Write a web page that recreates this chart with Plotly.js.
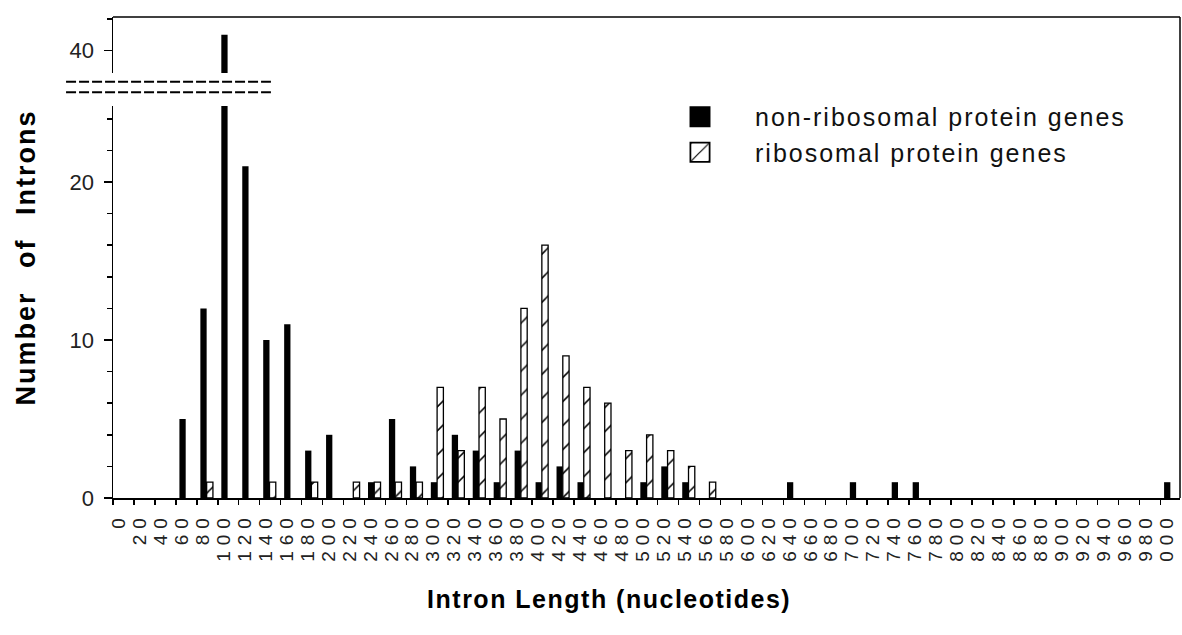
<!DOCTYPE html>
<html>
<head>
<meta charset="utf-8">
<script src="https://cdn.plot.ly/plotly-3.0.1.min.js"></script>
<style>
html, body { margin: 0; padding: 0; background: #fff; }
#chart { width: 1182px; height: 635px; }
.xtick text { letter-spacing: 6px; }
.x2title { letter-spacing: 1.5px; }
.y3title { letter-spacing: 2px; word-spacing: 14px; }
.legendtext { letter-spacing: 2px; }
.legend .legendpoints path {
  transform: translate(55px, 0px) scale(1.6);
  stroke: #000 !important; stroke-width: 1.1px !important; stroke-opacity: 1 !important;
}
</style>
</head>
<body>
<div id="chart"></div>
<script>
// Bin start (nucleotides)
const bins = [0, 20, 40, 60, 80, 100, 120, 140, 160, 180, 200, 220, 240, 260, 280, 300, 320, 340, 360, 380,
  400, 420, 440, 460, 480, 500, 520, 540, 560, 580, 600, 620, 640, 660, 680, 700, 720, 740, 760, 780,
  800, 820, 840, 860, 880, 900, 920, 940, 960, 980, 1000];
const tickLabels = ["0", "20", "40", "60", "80", "100", "120", "140", "160", "180", "200", "220", "240", "260", "280", "300", "320", "340", "360", "380",
  "400", "420", "440", "460", "480", "500", "520", "540", "560", "580", "600", "620", "640", "660", "680", "700", "720", "740", "760", "780",
  "800", "820", "840", "860", "880", "900", "920", "940", "960", "980", "000"];
const nonRibosomal = [0, 0, 0, 5, 12, 41, 21, 10, 11, 3, 4, 0, 1, 5, 2, 1, 4, 3, 1, 3,
  1, 2, 1, 0, 0, 1, 2, 1, 0, 0, 0, 0, 1, 0, 0, 1, 0, 1, 1, 0,
  0, 0, 0, 0, 0, 0, 0, 0, 0, 0, 1];
const ribosomal = [0, 0, 0, 0, 1, 0, 0, 1, 0, 1, 0, 1, 1, 1, 1, 7, 3, 7, 5, 12,
  16, 9, 7, 6, 3, 4, 3, 2, 1, 0, 0, 0, 0, 0, 0, 0, 0, 0, 0, 0,
  0, 0, 0, 0, 0, 0, 0, 0, 0, 0, 0];
const seriesNames = ["non-ribosomal protein genes", "ribosomal protein genes"];
const xTitle = "Intron Length (nucleotides)";
const yTitle = "Number of Introns";

const FONT = '"Liberation Sans", Arial, Helvetica, sans-serif';

// outline only on bars that exist (no stubs on empty bins)
const riboOutline = ribosomal.map(v => (v > 0 ? 1.3 : 0));

const blackMarker = { color: '#000', line: { width: 0 } };
const traces = [
  {
    type: 'bar', x: bins, y: nonRibosomal, name: seriesNames[0],
    xaxis: 'x', yaxis: 'y', offset: 3.4, width: 6.0,
    marker: blackMarker, hoverinfo: 'skip'
  },
  {
    type: 'bar', x: bins, y: ribosomal, name: seriesNames[1],
    xaxis: 'x', yaxis: 'y', offset: 9.4, width: 6.0,
    marker: {
      color: '#fff',
      line: { color: '#000', width: riboOutline },
      pattern: { shape: '/', fgcolor: '#000', bgcolor: '#fff', size: 17, solidity: 0.09 }
    },
    hoverinfo: 'skip'
  },
  {
    type: 'bar', x: bins, y: nonRibosomal, name: seriesNames[0], showlegend: false,
    xaxis: 'x', yaxis: 'y2', offset: 3.4, width: 6.0,
    marker: blackMarker, hoverinfo: 'skip'
  },
  { type: 'scatter', x: [], y: [], xaxis: 'x2', yaxis: 'y', showlegend: false, hoverinfo: 'skip' },
  { type: 'scatter', x: [], y: [], xaxis: 'x', yaxis: 'y3', showlegend: false, hoverinfo: 'skip' }
];

const tickFontY = { family: FONT, size: 22, color: '#222' };
const layout = {
  width: 1182, height: 635,
  margin: { l: 113, r: 2, t: 17, b: 137, pad: 0 },
  paper_bgcolor: '#fff', plot_bgcolor: 'rgba(0,0,0,0)',
  barmode: 'overlay',
  showlegend: true,
  legend: {
    x: 0.4986, xanchor: 'left', y: 0.84, yanchor: 'top',
    bgcolor: 'rgba(0,0,0,0)', borderwidth: 0,
    font: { family: FONT, size: 25, color: '#111' },
    itemwidth: 100, traceorder: 'normal'
  },
  xaxis: {
    domain: [0, 1], anchor: 'y', range: [0, 1018.6],
    showline: true, linecolor: '#000', linewidth: 1.5,
    ticks: 'outside', ticklen: 5, tickwidth: 1.5, tickcolor: '#000',
    tickmode: 'array', tickvals: bins, ticktext: tickLabels,
    tickangle: -90, ticklabelshift: 6,
    tickfont: { family: FONT, size: 19, color: '#222' },
    showgrid: false, zeroline: false, fixedrange: true
  },
  yaxis: {
    domain: [0, 0.815], anchor: 'x', range: [0, 24.81],
    showline: true, linecolor: '#000', linewidth: 1.5,
    ticks: 'outside', ticklen: 8, tickwidth: 1.5, tickcolor: '#000',
    tickmode: 'linear', tick0: 0, dtick: 10, ticklabelstandoff: 5,
    minor: { dtick: 2, tick0: 0, ticks: 'outside', ticklen: 5, tickwidth: 1.5, tickcolor: '#000', showgrid: false },
    tickfont: tickFontY,
    showgrid: false, zeroline: false, fixedrange: true
  },
  yaxis2: {
    domain: [0.8836, 1], anchor: 'x', range: [38.59, 42.13],
    showline: true, linecolor: '#000', linewidth: 1.5,
    ticks: 'outside', ticklen: 8, tickwidth: 1.5, tickcolor: '#000',
    tickmode: 'linear', tick0: 0, dtick: 10, ticklabelstandoff: 5,
    minor: { dtick: 2, tick0: 0, ticks: 'outside', ticklen: 5, tickwidth: 1.5, tickcolor: '#000', showgrid: false },
    tickfont: tickFontY,
    showgrid: false, zeroline: false, fixedrange: true
  },
  xaxis2: {
    domain: [0.37, 0.56], anchor: 'free', position: 0, side: 'bottom', range: [0, 1],
    showline: false, ticks: '', showticklabels: false, showgrid: false, zeroline: false, fixedrange: true,
    title: { text: xTitle, standoff: 92, font: { family: FONT, size: 25, color: '#000', weight: 'bold' } }
  },
  yaxis3: {
    domain: [0, 1], anchor: 'free', position: 0, side: 'left', range: [0, 1],
    showline: false, ticks: '', showticklabels: false, showgrid: false, zeroline: false, fixedrange: true,
    title: { text: yTitle, standoff: 68, font: { family: FONT, size: 27, color: '#000', weight: 'bold' } }
  },
  shapes: [
    { type: 'line', xref: 'paper', yref: 'paper', x0: 0, x1: 1, y0: 1, y1: 1, line: { color: '#000', width: 1.5 } },
    { type: 'line', xref: 'paper', yref: 'paper', x0: 1, x1: 1, y0: 0, y1: 1, line: { color: '#000', width: 1.5 } },
    { type: 'line', xref: 'paper', yref: 'paper', x0: -0.044, x1: 0.148, y0: 0.8655, y1: 0.8655, line: { color: '#000', width: 2, dash: '10px,3px' } },
    { type: 'line', xref: 'paper', yref: 'paper', x0: -0.044, x1: 0.148, y0: 0.8435, y1: 0.8435, line: { color: '#000', width: 2, dash: '10px,3px' } }
  ]
};

Plotly.newPlot('chart', traces, layout, { staticPlot: true, displayModeBar: false });
</script>
</body>
</html>
